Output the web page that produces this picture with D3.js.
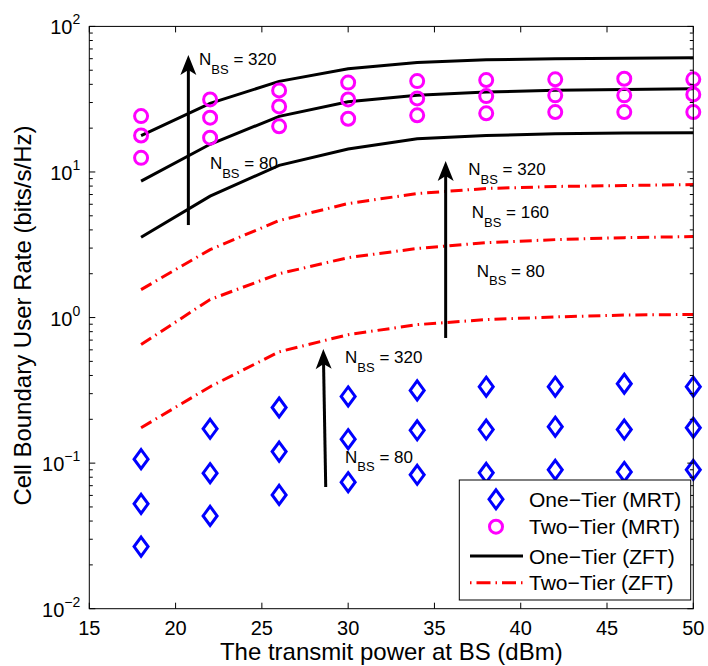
<!DOCTYPE html>
<html>
<head>
<meta charset="utf-8">
<script src="https://cdn.jsdelivr.net/npm/d3@7"></script>
<style>
  html, body { margin: 0; padding: 0; background: #fff; }
  svg { display: block; }
  text { font-family: "Liberation Sans", Arial, Helvetica, sans-serif; fill: #000; }
</style>
</head>
<body>
<svg id="chart" width="708" height="666"></svg>
<script>
// Transmit power at the BS (dBm)
const powerDbm = [18, 22, 26, 30, 34, 38, 42, 46, 50];

// One-tier ZFT (bits/s/Hz), N_BS = 320 / 160 / 80
const zftOneTier320 = [17.8, 29.6, 41.9, 51.1, 56.6, 58.9, 60.0, 60.5, 61.0];
const zftOneTier160 = [8.65, 15.5, 24.1, 30.4, 33.6, 35.4, 36.4, 36.9, 37.3];
const zftOneTier80  = [3.56, 6.82, 11.1, 14.4, 16.9, 17.8, 18.3, 18.5, 18.6];

// Two-tier ZFT
const zftTwoTier320 = [1.556, 2.93, 4.64, 6.07, 7.11, 7.70, 7.95, 8.07, 8.20];
const zftTwoTier160 = [0.652, 1.33, 2.00, 2.58, 2.98, 3.27, 3.43, 3.54, 3.60];
const zftTwoTier80  = [0.175, 0.335, 0.582, 0.763, 0.894, 0.968, 1.01, 1.04, 1.05];

// Two-tier MRT
const mrtTwoTier320 = [24.2, 31.5, 36.3, 41.1, 42.1, 42.8, 43.3, 43.7, 43.3];
const mrtTwoTier160 = [17.8, 23.6, 28.2, 31.5, 32.0, 33.2, 33.6, 33.6, 34.1];
const mrtTwoTier80  = [12.5, 17.2, 20.6, 23.2, 24.5, 25.3, 25.8, 25.8, 25.8];

// One-tier MRT
const mrtOneTier320 = [0.1065, 0.172, 0.241, 0.287, 0.316, 0.335, 0.335, 0.351, 0.335];
const mrtOneTier160 = [0.0525, 0.0853, 0.120, 0.146, 0.168, 0.170, 0.178, 0.170, 0.175];
const mrtOneTier80  = [0.0267, 0.0434, 0.0605, 0.0740, 0.0831, 0.0858, 0.0899, 0.087, 0.0899];

// Axis ticks
const xTicks = [15, 20, 25, 30, 35, 40, 45, 50];
const yTickExponents = [-2, -1, 0, 1, 2];

const legendLabels = ["One\u2212Tier (MRT)", "Two\u2212Tier (MRT)", "One\u2212Tier (ZFT)", "Two\u2212Tier (ZFT)"];

const svg = d3.select("#chart");
const plot = { left: 89.3, right: 693.3, top: 26.4, bottom: 608.7 };

const x = d3.scaleLinear().domain([15, 50]).range([plot.left, plot.right]);
const y = d3.scaleLog().domain([1e-2, 1e2]).range([plot.bottom, plot.top]);

const BLUE = "#0000ff", MAGENTA = "#ff00ff", RED = "#ff0000";
const DASHDOT = "12,5,1.5,5";

const toPoints = arr => arr.map((v, i) => [powerDbm[i], v]);
const line = d3.line().x(d => x(d[0])).y(d => y(d[1]));

// ---- axes box and ticks (MATLAB style: inward ticks on all four sides)
const axisG = svg.append("g");
const minorVals = [];
for (let e = -2; e < 2; e++) for (let m = 2; m <= 9; m++) minorVals.push(m * Math.pow(10, e));

function drawTicks() {
  const g = svg.append("g").attr("stroke", "#000").attr("stroke-width", 1);
  g.selectAll(".xt").data(xTicks).join("path")
    .attr("d", d => `M${x(d)},${plot.bottom}v-6M${x(d)},${plot.top}v6`);
  g.selectAll(".ymj").data(yTickExponents).join("path")
    .attr("d", d => `M${plot.left},${y(Math.pow(10, d))}h6M${plot.right},${y(Math.pow(10, d))}h-6`);
  g.selectAll(".ymn").data(minorVals).join("path")
    .attr("d", d => `M${plot.left},${y(d)}h3.5M${plot.right},${y(d)}h-3.5`);
  g.append("rect")
    .attr("x", plot.left).attr("y", plot.top)
    .attr("width", plot.right - plot.left).attr("height", plot.bottom - plot.top)
    .attr("fill", "none");
}

// x tick labels
axisG.selectAll(".xl").data(xTicks).join("text")
  .attr("x", d => x(d)).attr("y", plot.bottom + 26)
  .attr("text-anchor", "middle").attr("font-size", 20)
  .text(d => d);

// y tick labels: 10^e
const yl = axisG.selectAll(".yl").data(yTickExponents).join("text")
  .attr("x", plot.left - 9).attr("y", d => y(Math.pow(10, d)) + 8)
  .attr("text-anchor", "end").attr("font-size", 20);
yl.append("tspan").text("10");
yl.append("tspan").attr("dy", -10).attr("font-size", 14).text(d => d < 0 ? "\u2212" + (-d) : d);

// axis titles
axisG.append("text")
  .attr("x", (plot.left + plot.right) / 2).attr("y", 660)
  .attr("text-anchor", "middle").attr("font-size", 24)
  .text("The transmit power at BS (dBm)");
axisG.append("text")
  .attr("transform", `translate(31,${(plot.top + plot.bottom) / 2 - 2}) rotate(-90)`)
  .attr("text-anchor", "middle").attr("font-size", 24)
  .text("Cell Boundary User Rate (bits/s/Hz)");

// ---- ZFT curves
const curves = svg.append("g").attr("fill", "none").attr("stroke-width", 3);
[zftOneTier320, zftOneTier160, zftOneTier80].forEach(s =>
  curves.append("path").attr("d", line(toPoints(s))).attr("stroke", "#000"));
[zftTwoTier320, zftTwoTier160, zftTwoTier80].forEach(s =>
  curves.append("path").attr("d", line(toPoints(s))).attr("stroke", RED)
    .attr("stroke-dasharray", DASHDOT));

// ---- MRT markers
const diamondPath = (cx, cy) => `M${cx},${cy - 9.5}L${cx + 7},${cy}L${cx},${cy + 9.5}L${cx - 7},${cy}Z`;
const marks = svg.append("g").attr("fill", "none").attr("stroke-width", 3);
[mrtOneTier320, mrtOneTier160, mrtOneTier80].forEach(s =>
  marks.append("g").selectAll("path").data(toPoints(s)).join("path")
    .attr("d", d => diamondPath(x(d[0]), y(d[1]))).attr("stroke", BLUE));
[mrtTwoTier320, mrtTwoTier160, mrtTwoTier80].forEach(s =>
  marks.append("g").selectAll("circle").data(toPoints(s)).join("circle")
    .attr("cx", d => x(d[0])).attr("cy", d => y(d[1])).attr("r", 6.5).attr("stroke", MAGENTA));

drawTicks();

// ---- arrows and N_BS annotations
const arrows = [
  { x0: 20.74, y0: 4.32, x1: 20.74, y1: 63.6 },
  { x0: 35.65, y0: 0.724, x1: 35.65, y1: 11.9 },
  { x0: 28.70, y0: 0.0686, x1: 28.56, y1: 0.608 }
];
const notes = [
  { x: 21.36, y: 54.3, n: "320" },
  { x: 21.99, y: 10.4, n: "80" },
  { x: 36.96, y: 9.53, n: "320" },
  { x: 37.16, y: 4.81, n: "160" },
  { x: 37.45, y: 1.91, n: "80" },
  { x: 29.82, y: 0.486, n: "320" },
  { x: 29.82, y: 0.1007, n: "80" }
];
const ann = svg.append("g");
arrows.forEach(a => {
  const px0 = x(a.x0), py0 = y(a.y0), px1 = x(a.x1), py1 = y(a.y1);
  const len = Math.hypot(px0 - px1, py0 - py1);
  const ang = Math.atan2(py1 - py0, px1 - px0) * 180 / Math.PI + 90;
  ann.append("line").attr("x1", px0).attr("y1", py0)
    .attr("x2", px1 + (px0 - px1) * 12 / len)
    .attr("y2", py1 + (py0 - py1) * 12 / len)
    .attr("stroke", "#000").attr("stroke-width", 3);
  ann.append("path").attr("d", "M0,0L-8,20L0,15L8,20Z")
    .attr("transform", `translate(${px1},${py1}) rotate(${ang})`).attr("fill", "#000");
});
notes.forEach(n => {
  const t = ann.append("text").attr("x", x(n.x)).attr("y", y(n.y)).attr("font-size", 17);
  t.append("tspan").text("N");
  t.append("tspan").attr("dy", 8.5).attr("font-size", 13).text("BS");
  t.append("tspan").attr("dy", -8.5).text(" = " + n.n);
});

// ---- legend
const lg = svg.append("g");
lg.append("rect").attr("x", 459.3).attr("y", 480).attr("width", 231.4).attr("height", 120)
  .attr("fill", "#fff").attr("stroke", "#000").attr("stroke-width", 1);
const rowY = [499.3, 526.7, 556, 582.7];
lg.append("path").attr("d", diamondPath(496, rowY[0])).attr("fill", "none").attr("stroke", BLUE).attr("stroke-width", 3);
lg.append("circle").attr("cx", 496).attr("cy", rowY[1]).attr("r", 6.5).attr("fill", "none").attr("stroke", MAGENTA).attr("stroke-width", 3);
lg.append("line").attr("x1", 470).attr("x2", 523).attr("y1", rowY[2]).attr("y2", rowY[2]).attr("stroke", "#000").attr("stroke-width", 3);
lg.append("line").attr("x1", 470).attr("x2", 523).attr("y1", rowY[3]).attr("y2", rowY[3]).attr("stroke", RED).attr("stroke-width", 3)
  .attr("stroke-dasharray", "1.5,5,14,5");
lg.selectAll(".lt").data(legendLabels).join("text")
  .attr("x", 529).attr("y", (d, i) => rowY[i] + 7.5).attr("font-size", 21).text(d => d);
</script>
</body>
</html>
